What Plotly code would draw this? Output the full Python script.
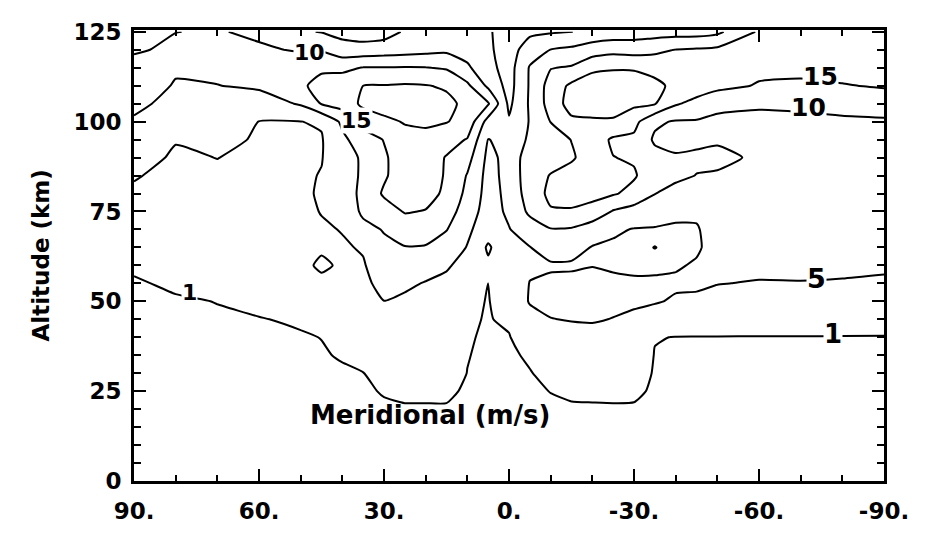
import plotly.graph_objects as go

# ---------------- data ----------------
latitudes = [90, 80, 70, 60, 50, 45, 40, 35, 30, 25, 20, 15, 10, 5, 0,
             -5, -10, -15, -20, -25, -30, -35, -40, -45, -50, -60, -70, -80, -90]
altitudes = [0, 5, 10, 15, 20, 25, 30, 35, 40, 45, 50, 55, 60, 65, 70, 75,
             80, 85, 90, 95, 100, 105, 110, 115, 120, 125]

# meridional wind magnitude (m/s), one profile (alt 0..125 km) per latitude
wind_by_latitude = [
    [0.2, 0.25, 0.3, 0.35, 0.4, 0.5, 0.6, 0.7, 0.75, 0.8, 0.85, 0.9, 1.15, 2.0, 2.8, 3.5, 4.4, 5.3, 6.5, 7.8, 9.2, 11.5, 13.5, 11.5, 9.5, 8.0],      # 90
    [0.2, 0.3, 0.3, 0.35, 0.4, 0.5, 0.55, 0.6, 0.7, 0.8, 0.9, 1.15, 1.6, 2.1, 2.6, 3.0, 3.4, 3.9, 4.5, 5.2, 6.5, 8.0, 9.5, 10.8, 10.8, 9.95],      # 80
    [0.2, 0.3, 0.35, 0.4, 0.45, 0.5, 0.6, 0.7, 0.8, 0.9, 1.02, 1.5, 2.1, 2.6, 3.0, 3.4, 3.9, 4.4, 5.05, 6.0, 7.2, 8.6, 9.9, 11.2, 11.2, 10.3],   # 70
    [0.2, 0.3, 0.35, 0.4, 0.5, 0.55, 0.65, 0.75, 0.85, 0.95, 1.3, 1.8, 2.3, 2.7, 3.0, 3.3, 3.6, 3.9, 4.2, 4.6, 4.95, 7.5, 10.8, 11.5, 10.6, 9.2],  # 60
    [0.2, 0.3, 0.35, 0.45, 0.5, 0.6, 0.7, 0.8, 0.9, 1.15, 1.6, 2.1, 2.6, 3.1, 3.4, 3.7, 4.0, 4.3, 4.5, 4.7, 4.95, 10.5, 14.5, 13.0, 9.6, 5.5],    # 50
    [0.2, 0.3, 0.35, 0.45, 0.55, 0.65, 0.75, 0.9, 1.02, 1.5, 2.2, 2.8, 6.5, 3.8, 4.4, 5.2, 5.6, 5.2, 4.8, 4.7, 5.4, 15.3, 16.0, 14.5, 9.5, 4.8],   # 45
    [0.2, 0.3, 0.4, 0.5, 0.55, 0.65, 0.85, 1.1, 1.3, 1.7, 2.3, 3.0, 3.7, 4.5, 5.2, 6.0, 6.8, 7.5, 8.2, 9.0, 11.0, 17.0, 17.5, 14.0, 7.0, 3.5],    # 40
    [0.2, 0.3, 0.4, 0.5, 0.6, 0.8, 0.98, 1.3, 1.8, 2.5, 3.2, 3.9, 4.6, 5.4, 8.5, 11.0, 11.5, 10.8, 10.6, 12.5, 17.0, 21.0, 20.0, 15.2, 7.0, 2.5], # 35
    [0.2, 0.3, 0.4, 0.55, 0.8, 1.1, 1.5, 2.0, 2.7, 3.5, 4.95, 6.5, 7.8, 9.0, 10.3, 13.0, 15.6, 14.4, 14.3, 15.2, 19.0, 22.0, 20.2, 15.2, 7.5, 3.0],  # 30
    [0.2, 0.3, 0.45, 0.6, 0.85, 1.3, 1.9, 2.5, 3.1, 3.7, 4.4, 5.6, 7.5, 9.8, 12.5, 15.3, 17.0, 17.5, 17.8, 18.5, 20.3, 22.5, 20.5, 15.3, 8.0, 5.5],  # 25
    [0.2, 0.3, 0.45, 0.6, 0.85, 1.3, 1.9, 2.5, 3.1, 3.7, 4.3, 4.8, 6.5, 9.6, 12.5, 14.8, 16.5, 17.0, 17.5, 18.5, 20.8, 22.0, 20.2, 15.2, 8.5, 6.5],  # 20
    [0.2, 0.3, 0.45, 0.65, 0.9, 1.2, 1.6, 2.1, 2.6, 3.2, 3.8, 4.4, 5.3, 7.5, 10.2, 12.5, 14.2, 14.6, 14.7, 17.0, 20.2, 21.0, 19.5, 14.5, 9.0, 7.0],  # 15
    [0.2, 0.3, 0.4, 0.55, 0.7, 0.85, 0.98, 1.05, 1.1, 1.2, 1.35, 2.2, 4.1, 4.8, 5.8, 7.3, 8.7, 9.7, 11.8, 14.7, 18.5, 19.0, 16.0, 10.8, 8.0, 7.0],  # 10
    [0.15, 0.2, 0.25, 0.3, 0.4, 0.5, 0.6, 0.75, 0.85, 0.9, 0.93, 0.97, 1.6, 0.5, 2.6, 3.0, 3.2, 3.4, 3.8, 4.9, 8.0, 15.5, 9.0, 6.5, 5.8, 5.6],    # 5
    [0.1, 0.15, 0.2, 0.25, 0.3, 0.4, 0.5, 0.65, 0.9, 1.3, 1.8, 2.4, 3.1, 3.8, 4.8, 5.8, 6.2, 6.5, 6.4, 6.0, 5.5, 4.0, 3.2, 3.0, 2.8, 2.6],        # 0
    [0.1, 0.15, 0.2, 0.3, 0.4, 0.6, 0.9, 1.3, 2.2, 3.6, 5.3, 5.1, 4.4, 4.9, 7.5, 11.0, 12.5, 13.0, 13.0, 11.0, 10.3, 10.6, 10.5, 10.4, 7.5, 4.0], # -5
    [0.1, 0.15, 0.2, 0.3, 0.6, 1.05, 1.6, 2.3, 3.5, 4.9, 6.0, 5.6, 4.6, 6.5, 9.7, 14.6, 16.0, 15.2, 13.5, 13.2, 15.1, 17.0, 17.0, 14.8, 10.1, 4.5],  # -10
    [0.1, 0.15, 0.2, 0.3, 0.7, 1.4, 2.0, 2.7, 3.6, 5.2, 6.2, 6.0, 4.5, 6.5, 9.5, 14.5, 17.0, 16.5, 14.5, 15.1, 19.0, 22.0, 21.0, 15.5, 11.0, 4.9],  # -15
    [0.1, 0.15, 0.2, 0.3, 0.7, 1.5, 2.2, 2.9, 3.8, 5.3, 6.3, 6.0, 4.9, 4.8, 7.0, 13.8, 16.0, 17.0, 17.0, 17.5, 19.3, 22.5, 22.5, 19.0, 12.5, 6.5],  # -20
    [0.1, 0.15, 0.2, 0.3, 0.75, 1.5, 2.2, 2.9, 3.8, 4.9, 5.8, 5.6, 4.6, 4.4, 5.6, 9.6, 15.5, 16.0, 15.1, 14.3, 19.2, 23.0, 23.0, 19.5, 13.5, 7.0],  # -25
    [0.1, 0.15, 0.2, 0.3, 0.75, 1.4, 2.1, 2.8, 3.6, 4.5, 5.4, 5.3, 4.6, 4.0, 4.8, 8.0, 13.5, 15.5, 14.5, 14.0, 16.5, 21.0, 22.5, 19.5, 13.0, 7.5],  # -30
    [0.1, 0.15, 0.2, 0.3, 0.5, 0.7, 0.8, 0.9, 1.1, 3.2, 5.3, 5.4, 4.5, 0.75, 4.6, 7.5, 10.1, 12.0, 11.5, 9.3, 10.8, 20.3, 21.5, 18.0, 14.0, 7.8],  # -35
    [0.1, 0.15, 0.2, 0.3, 0.5, 0.6, 0.7, 0.8, 0.95, 2.5, 4.6, 5.5, 4.7, 4.0, 4.4, 6.0, 8.5, 11.0, 10.5, 8.5, 9.6, 15.5, 18.5, 18.0, 15.1, 8.0],     # -40
    [0.1, 0.15, 0.2, 0.3, 0.5, 0.6, 0.7, 0.8, 0.95, 2.3, 4.3, 5.6, 5.3, 4.6, 4.7, 5.6, 7.5, 9.9, 10.8, 9.0, 9.6, 13.6, 17.5, 18.5, 15.5, 8.0],     # -45
    [0.1, 0.15, 0.2, 0.3, 0.45, 0.55, 0.65, 0.75, 0.95, 2.0, 3.8, 5.1, 5.8, 6.2, 6.6, 7.2, 8.0, 9.5, 11.2, 9.4, 9.2, 11.0, 16.5, 18.5, 16.0, 9.0], # -50
    [0.1, 0.15, 0.2, 0.3, 0.45, 0.55, 0.65, 0.75, 0.95, 1.8, 3.3, 4.8, 5.8, 6.3, 6.8, 7.3, 7.8, 8.6, 9.2, 9.3, 9.4, 10.3, 14.6, 16.2, 16.8, 15.6], # -60
    [0.1, 0.15, 0.2, 0.3, 0.45, 0.55, 0.65, 0.75, 0.95, 1.8, 3.2, 4.85, 5.9, 6.4, 6.9, 7.4, 7.9, 8.4, 8.9, 9.2, 9.4, 10.5, 14.0, 16.5, 17.5, 17.0], # -70
    [0.1, 0.15, 0.2, 0.3, 0.45, 0.55, 0.65, 0.75, 0.95, 1.7, 3.0, 4.7, 5.8, 6.3, 6.8, 7.3, 7.8, 8.3, 8.8, 9.2, 9.5, 11.0, 14.7, 17.0, 17.5, 17.0],  # -80
    [0.1, 0.15, 0.2, 0.3, 0.45, 0.55, 0.65, 0.75, 0.95, 1.6, 2.9, 4.4, 5.6, 6.2, 6.7, 7.2, 7.7, 8.2, 8.7, 9.1, 9.5, 11.8, 15.5, 17.0, 17.5, 17.0],  # -90
]

low_level = 1
main_levels_start, main_levels_end, main_levels_step = 5, 20, 5

x_tick_values = [90, 60, 30, 0, -30, -60, -90]
x_tick_labels = ["90.", "60.", "30.", "0.", "-30.", "-60.", "-90."]
y_tick_values = [0, 25, 50, 75, 100, 125]
y_tick_labels = ["0", "25", "50", "75", "100", "125"]

label_texts = ["15", "10", "5", "1", "1", "10", "15"]
label_lats = [-74.8, -71.8, -73.9, -77.8, 76.8, 47.8, 36.5]
label_alts = [112.6, 104.0, 56.3, 40.8, 52.4, 119.3, 100.3]
label_sizes = [25, 25, 27, 26, 22, 22, 22]

# ---------------- build ----------------
lat_sorted = latitudes[::-1]
cols_sorted = wind_by_latitude[::-1]
z = [[col[i] for col in cols_sorted] for i in range(len(altitudes))]

font_family = "DejaVu Sans, Liberation Sans, sans-serif"

fig = go.Figure()
fig.add_trace(go.Contour(
    x=lat_sorted, y=altitudes, z=z,
    autocontour=False,
    contours=dict(coloring="none", start=low_level, end=low_level, size=1),
    line=dict(color="black", width=2, smoothing=0.5),
    showscale=False, hoverinfo="skip",
))
fig.add_trace(go.Contour(
    x=lat_sorted, y=altitudes, z=z,
    autocontour=False,
    contours=dict(coloring="none", start=main_levels_start,
                  end=main_levels_end, size=main_levels_step),
    line=dict(color="black", width=2, smoothing=0.5),
    showscale=False, hoverinfo="skip",
))

for t, la, al, s in zip(label_texts, label_lats, label_alts, label_sizes):
    fig.add_annotation(x=la, y=al, text=t, showarrow=False,
                       font=dict(family=font_family, size=s, color="black", weight="bold"),
                       bgcolor="white", borderpad=0)

fig.add_annotation(x=19.0, y=18.5, text="Meridional (m/s)", showarrow=False,
                   xanchor="center", yanchor="middle",
                   font=dict(family=font_family, size=26, color="black", weight="bold"))
fig.add_annotation(xref="paper", yref="paper", x=0, y=0.5, xshift=-94,
                   xanchor="center", yanchor="middle",
                   text="Altitude (km)", textangle=-90, showarrow=False,
                   font=dict(family=font_family, size=23, color="black", weight="bold"))

axis_common = dict(showline=True, linewidth=3, linecolor="black", mirror="allticks",
                   ticks="inside", tickwidth=2, tickcolor="black", showgrid=False,
                   zeroline=False,
                   tickfont=dict(family=font_family, size=23, color="black", weight="bold"))

fig.update_xaxes(range=[90, -90], tickvals=x_tick_values, ticktext=x_tick_labels,
                 ticklen=12, ticklabelstandoff=7,
                 minor=dict(dtick=10, ticks="inside", ticklen=6, tickwidth=2, tickcolor="black"),
                 **axis_common)
fig.update_yaxes(range=[0, 125.5], tickvals=y_tick_values, ticktext=y_tick_labels,
                 ticklen=12, ticklabelstandoff=5,
                 minor=dict(dtick=5, ticks="inside", ticklen=7, tickwidth=2, tickcolor="black"),
                 **axis_common)

# page body adds ~8px offset; margins compensate so the frame lands at (134,19)-(884,481)
fig.update_layout(width=926, height=542, margin=dict(l=126, r=50, t=11, b=69),
                  paper_bgcolor="white", plot_bgcolor="white", showlegend=False)

fig.write_html("out.html")
